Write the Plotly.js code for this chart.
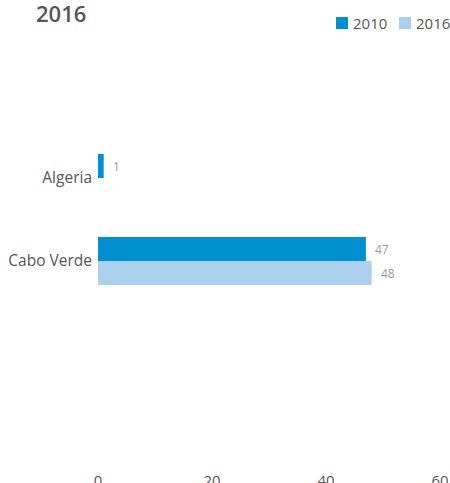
<!DOCTYPE html>
<html>
<head>
<meta charset="utf-8">
<script src="https://cdn.plot.ly/plotly-3.0.1.min.js"></script>
<style>html,body{margin:0;padding:0;background:#fff;}#chart{width:450px;height:483px;}</style>
</head>
<body>
<div id="chart"></div>
<script>
const categories = ["Algeria", "Cabo Verde"];
const series2010 = [1, 47];
const series2016 = [null, 48];
const seriesNames = ["2010", "2016"];
const xTicks = [0, 20, 40, 60];

const colors = ["#0090D2", "#ABCFEC"];
const font = "'Open Sans', sans-serif";

const W = 450, H = 483;
const M = {l: 98, r: 10, t: 60, b: 13};
const plotW = W - M.l - M.r, plotH = H - M.t - M.b;
const px2x = p => (p - M.l) / plotW;
const py2y = p => 1 + (M.t - p) / plotH;

const traces = [series2010, series2016].map((vals, i) => ({
  type: "bar",
  orientation: "h",
  name: seriesNames[i],
  y: categories,
  x: vals,
  marker: {color: colors[i]},
  hoverinfo: "x",
  showlegend: false
}));

const annotations = [];
[series2010, series2016].forEach((vals, i) => {
  vals.forEach((v, j) => {
    if (v === null) return;
    annotations.push({
      x: v, y: categories[j], xref: "x", yref: "y",
      text: String(v), showarrow: false,
      xanchor: "left", xshift: 7, yshift: i === 0 ? 12 : -12,
      font: {family: font, size: 12, color: "#999"}
    });
  });
});

// legend (manual, to match the compact spacing of the reference)
const legendStarts = [336, 399];
const shapes = [];
seriesNames.forEach((name, i) => {
  const s = legendStarts[i];
  shapes.push({type: "rect", xref: "paper", yref: "paper",
    x0: px2x(s), x1: px2x(s + 12), y0: py2y(29), y1: py2y(17),
    fillcolor: colors[i], line: {width: 0}});
  annotations.push({xref: "paper", yref: "paper", x: px2x(s + 15), y: py2y(23.5),
    xanchor: "left", yanchor: "middle", text: name, showarrow: false,
    font: {family: font, size: 15, color: "#555"}});
});

const layout = {
  width: W, height: H,
  margin: M,
  paper_bgcolor: "#fff", plot_bgcolor: "#fff",
  title: {text: "2016", font: {family: font, size: 22, color: "#555", weight: 600},
          xref: "container", x: 36/450, xanchor: "left", yref: "container", y: 1 - 14/483, yanchor: "middle"},
  barmode: "group",
  bargap: 0.42,
  bargroupgap: 0,
  showlegend: false,
  xaxis: {range: [0, 60], tickvals: xTicks, showgrid: false, zeroline: false, showline: false,
          tickfont: {family: font, size: 15, color: "#555"}, fixedrange: true},
  yaxis: {type: "category", categoryorder: "array", categoryarray: categories,
          range: [3.518, -1.422], showgrid: false, zeroline: false, showline: false,
          ticks: "", ticklen: 0, ticklabelstandoff: 5,
          tickfont: {family: font, size: 15.5, color: "#555"}, fixedrange: true},
  shapes: shapes,
  annotations: annotations
};

Plotly.newPlot("chart", traces, layout, {displayModeBar: false, staticPlot: true});
</script>
</body>
</html>
